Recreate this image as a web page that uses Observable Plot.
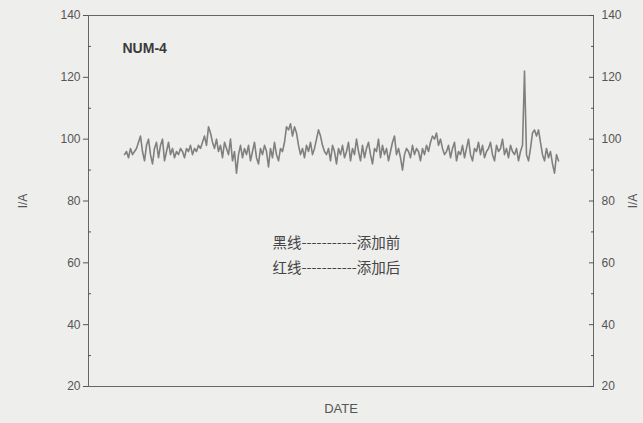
<!DOCTYPE html>
<html>
<head>
<meta charset="utf-8">
<script src="https://cdn.jsdelivr.net/npm/d3@7"></script>
<script src="https://cdn.jsdelivr.net/npm/@observablehq/plot@0.6"></script>
<style>
  html, body { margin: 0; padding: 0; background: #eeeeec; }
  svg { display: block; }
</style>
</head>
<body>
<div id="chart"></div>
<script>
const currentValues = [
  95,96,94,97,95,96,
  97,99,101,96,93,98,100,95,
  92,97,99,94,98,100,93,96,99,95,97,94,
  96,95,97,96,94,97,96,98,95,97,96,98,97,
  99,101,98,104,102,99,97,100,
  96,98,94,99,97,95,100,93,96,89,95,98,
  94,97,95,98,93,96,99,94,92,97,95,98,96,91,97,94,99,95,93,97,96,
  99,104,103,105,101,104,102,98,
  95,97,94,98,96,99,95,97,100,
  103,101,98,96,
  95,97,93,98,96,92,97,95,
  98,94,96,99,93,97,95,100,96,93,98,94,97,99,95,92,97,96,100,94,98,95,97,93,96,99,101,95,97,94,
  90,95,97,96,94,98,95,97,96,93,97,95,98,96,
  99,101,100,102,98,100,97,95,
  96,98,94,97,99,93,96,95,98,94,97,100,95,93,97,96,99,95,98,94,96,97,99,95,93,98,96,97,100,95,97,94,98,96,95,97,93,96,98,
  122,
  95,93,
  97,102,103,101,103,99,
  95,93,97,94,96,92,89,95,93
];
const yMajorTicks = [20, 40, 60, 80, 100, 120, 140];
const yMinorTicks = [30, 50, 70, 90, 110, 130];
const titleText = "NUM-4";
const legendLines = ["黑线-----------添加前", "红线-----------添加后"];
const yLabel = "I/A";
const xLabel = "DATE";

const data = currentValues.map((v, i) => ({i, v}));
const ink = "#555";
const fontAxis = "'Liberation Sans', Arial, sans-serif";
const blank = () => "";

const chart = Plot.plot({
  width: 643,
  height: 423,
  marginLeft: 88,
  marginRight: 50,
  marginTop: 15,
  marginBottom: 37,
  style: {background: "#eeeeec", color: ink, fontFamily: fontAxis, fontSize: "12px"},
  x: {domain: [-18, 234.5]},
  y: {domain: [20, 140]},
  marks: [
    Plot.frame({stroke: "#666", strokeWidth: 1}),
    Plot.axisY({anchor: "left", ticks: yMajorTicks, tickSize: 5, tickPadding: 3,
      label: yLabel, labelAnchor: "center", labelArrow: "none", labelOffset: 70, fontSize: 12}),
    Plot.axisY({anchor: "left", ticks: yMinorTicks, tickSize: -3, tickFormat: blank, label: null}),
    Plot.axisY({anchor: "right", ticks: yMajorTicks, tickSize: -5, tickPadding: 13,
      label: yLabel, labelAnchor: "center", labelArrow: "none", labelOffset: 43, fontSize: 12}),
    Plot.axisY({anchor: "right", ticks: yMinorTicks, tickSize: -3, tickFormat: blank, label: null}),
    Plot.axisX({ticks: [], label: xLabel, labelAnchor: "center", labelArrow: "none", labelOffset: 26, fontSize: 13}),
    Plot.line(data, {x: "i", y: "v", stroke: "#808080", strokeWidth: 1.6}),
    Plot.text([titleText], {frameAnchor: "top-left", dx: 34, dy: 28, text: d => d,
      fontWeight: "bold", fontSize: 14, fill: "#3a3a3a", textAnchor: "start"}),
    Plot.text([legendLines[0]], {frameAnchor: "left", dx: 184, dy: 42, text: d => d,
      fontSize: 14.5, fill: "#444", textAnchor: "start", fontFamily: "'Noto Sans CJK SC', sans-serif"}),
    Plot.text([legendLines[1]], {frameAnchor: "left", dx: 184, dy: 67, text: d => d,
      fontSize: 14.5, fill: "#444", textAnchor: "start", fontFamily: "'Noto Sans CJK SC', sans-serif"})
  ]
});
document.getElementById("chart").appendChild(chart);
</script>
</body>
</html>
